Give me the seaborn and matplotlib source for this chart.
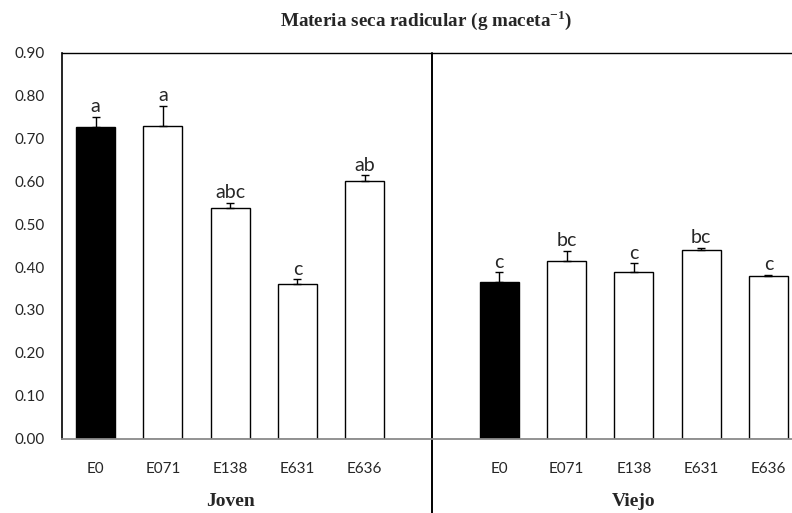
import matplotlib
matplotlib.use("Agg")
import matplotlib.pyplot as plt
import seaborn as sns
import pandas as pd
import numpy as np

# Dry root mass per pot (g), mean and standard error per strain and plant age
strains = ["E0", "E071", "E138", "E631", "E636"]
joven_mean = [0.726, 0.728, 0.537, 0.360, 0.601]
joven_err = [0.025, 0.048, 0.013, 0.012, 0.013]
joven_letters = ["a", "a", "abc", "c", "ab"]
viejo_mean = [0.366, 0.413, 0.388, 0.439, 0.378]
viejo_err = [0.022, 0.025, 0.021, 0.006, 0.004]
viejo_letters = ["c", "bc", "c", "bc", "c"]
groups = ["Joven", "Viejo"]
y_ticks = [0.0, 0.1, 0.2, 0.3, 0.4, 0.5, 0.6, 0.7, 0.8, 0.9]

sns.set_theme(style="white")
plt.rcParams["mathtext.fontset"] = "custom"
plt.rcParams["mathtext.rm"] = "Liberation Serif"
plt.rcParams["mathtext.bf"] = "Liberation Serif:bold"

df = pd.DataFrame({
    "key": [f"J_{s}" for s in strains] + [f"V_{s}" for s in strains],
    "strain": strains * 2,
    "group": ["Joven"] * 5 + ["Viejo"] * 5,
    "mean": joven_mean + viejo_mean,
    "err": joven_err + viejo_err,
    "letter": joven_letters + viejo_letters,
})
# one empty slot separates the two age groups
order = [f"J_{s}" for s in strains] + ["gap"] + [f"V_{s}" for s in strains]
palette = {k: ("black" if k.endswith("_E0") else "white") for k in df["key"]}

fig = plt.figure(figsize=(7.92, 5.13), dpi=100)
ax = fig.add_axes([62 / 792, 1 - 438.5 / 513, 740 / 792, 385.8 / 513])

sns.barplot(data=df, x="key", y="mean", hue="key", order=order,
            palette=palette, edgecolor="black", linewidth=1.0,
            width=0.58, legend=False, errorbar=None, ax=ax)

pos = np.array([order.index(k) for k in df["key"]])
ax.errorbar(pos, df["mean"], yerr=[np.zeros(len(df)), df["err"]],
            fmt="none", ecolor="black", elinewidth=1.0, capsize=3.2,
            capthick=1.0)

for x, m, e, t in zip(pos, df["mean"], df["err"], df["letter"]):
    ax.annotate(t, (x, m + e), xytext=(0, 1.0), textcoords="offset points",
                ha="center", va="bottom", fontsize=14, family="Lato")

ax.set_xlim(-0.5, 10.5)
ax.set_ylim(0, 0.9)
ax.set_yticks(y_ticks)
ax.set_yticklabels([f"{v:.2f}" for v in y_ticks], family="Lato", fontsize=11)
ax.set_xticks([order.index(f"J_{s}") for s in strains] +
              [order.index(f"V_{s}") for s in strains])
ax.set_xticklabels(strains * 2, family="Lato", fontsize=11)
ax.tick_params(axis="y", length=0, pad=12.5)
ax.tick_params(axis="x", length=0, pad=17)
ax.set_xlabel("")
ax.set_ylabel("")

ax.spines["right"].set_visible(False)
ax.spines["left"].set_color("black")
ax.spines["left"].set_linewidth(1.2)
ax.spines["top"].set_color("black")
ax.spines["top"].set_linewidth(1.0)
ax.spines["bottom"].set_color("#8a8a8a")
ax.spines["bottom"].set_linewidth(1.3)

# vertical divider between the age groups, running below the axis
sep = order.index("gap")
ax.plot([sep, sep], [0.9, -0.18], color="black", lw=1.4, clip_on=False)

# group names centred under each set of bars
for g, keys in zip(groups, [order[:5], order[6:]]):
    c = np.mean([order.index(k) for k in keys])
    ax.annotate(g, (c, 0), xytext=(0, -45), textcoords="offset points",
                ha="center", va="center", fontsize=14, fontweight="bold",
                family="Liberation Serif")

fig.text(426 / 792, 1 - 20 / 513,
         r"Materia seca radicular (g maceta$^{\mathbf{-1}}$)",
         ha="center", va="center", fontsize=13.8, fontweight="bold",
         family="Liberation Serif")

fig.savefig("out.png", dpi=100)
